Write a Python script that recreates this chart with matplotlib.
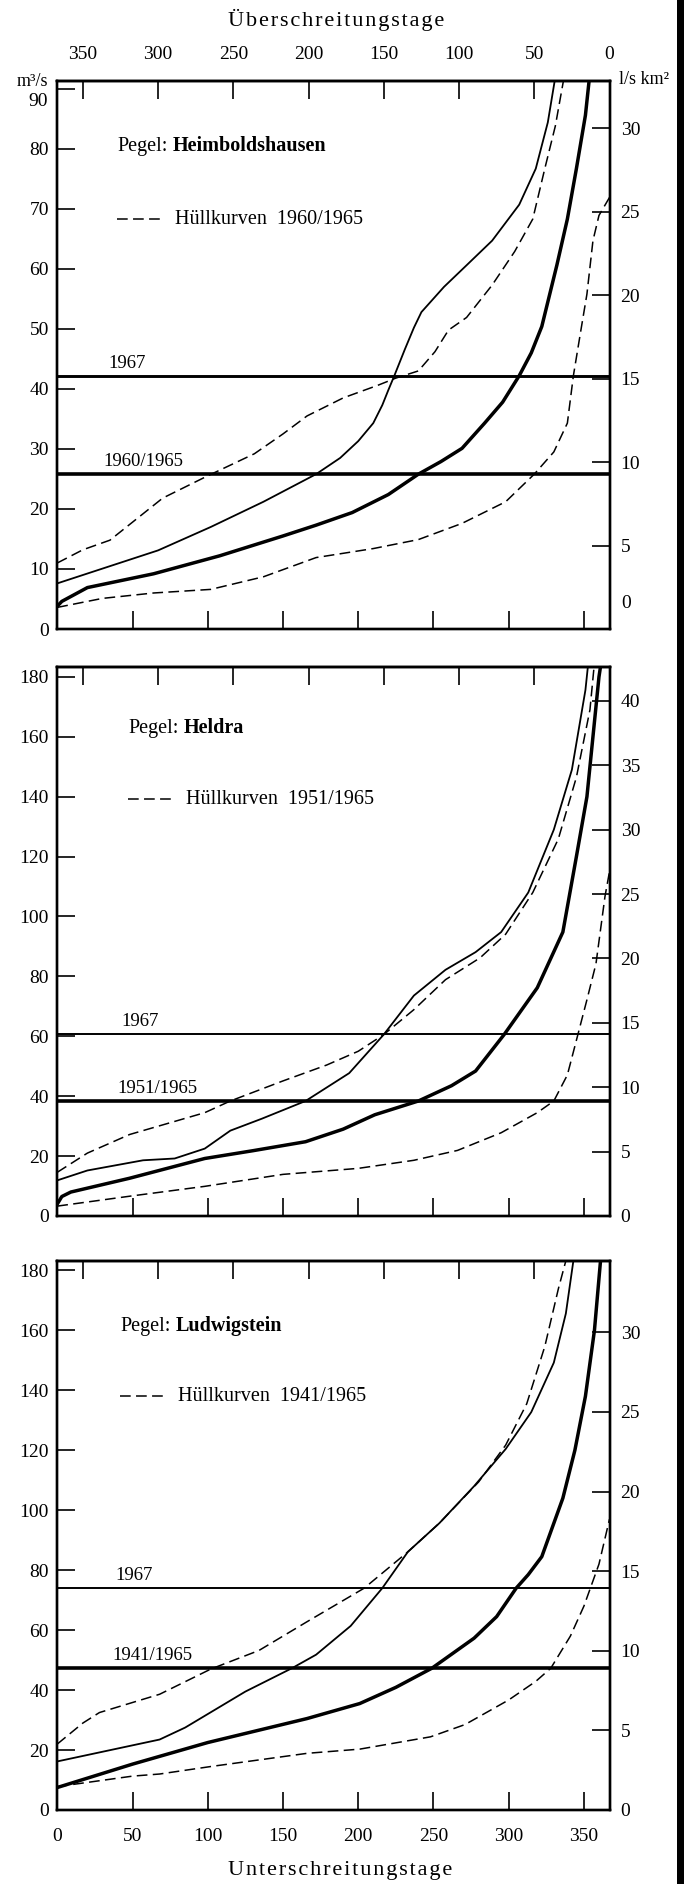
import matplotlib.pyplot as plt
from matplotlib.patches import Rectangle

plt.rcParams['font.family'] = ['Liberation Serif', 'DejaVu Serif']

days_max = 367  # right end of the day axis

# --- Heimboldshausen (m3/s), catchment ~2780 km2
hb_area = 2780
hb_thick_d = [0, 3, 20, 64, 108, 150, 172, 196, 220, 240, 255, 269, 284, 296, 307, 315, 322, 332, 339, 345, 351, 355]
hb_thick_q = [3.8, 4.6, 6.9, 9.2, 12.2, 15.5, 17.3, 19.4, 22.4, 25.8, 27.9, 30.1, 34.3, 37.8, 42.2, 46.0, 50.4, 60.6, 68.3, 76.7, 85.6, 95]
hb_thin_d = [0, 67, 102, 137, 172, 188, 200, 210, 216, 220, 224, 231, 237, 242, 257, 272, 289, 307, 318, 326, 333]
hb_thin_q = [7.6, 13.1, 17.0, 21.2, 25.8, 28.5, 31.3, 34.3, 37.3, 39.8, 42.2, 46.6, 50.2, 52.8, 57.0, 60.6, 64.7, 70.7, 76.7, 84.4, 95]
hb_up_d = [0, 17, 35, 50, 70, 99, 131, 150, 166, 190, 213, 225, 240, 251, 260, 272, 289, 304, 316, 324, 331, 339]
hb_up_q = [11.0, 13.2, 14.8, 17.8, 21.8, 25.4, 29.2, 32.5, 35.5, 38.5, 40.6, 41.8, 43.0, 46.2, 49.8, 51.9, 57.3, 62.9, 68.3, 76.7, 83.8, 95]
hb_lo_d = [0, 30, 64, 102, 137, 172, 210, 240, 269, 298, 317, 330, 339, 343, 348, 352, 356, 360, 367]
hb_lo_q = [3.6, 5.1, 6.0, 6.6, 8.7, 11.9, 13.4, 14.9, 17.6, 21.2, 25.8, 29.5, 34.3, 42.2, 49.8, 55.8, 64.7, 68.9, 71.9]
hb_mean_1967 = 42.2
hb_mean_period = 25.8

# --- Heldra (m3/s), catchment ~4300 km2
hd_area = 4300
hd_thick_d = [0, 3, 9, 48, 98, 130, 165, 190, 211, 240, 262, 278, 297, 319, 336, 345, 352, 357, 360, 363]
hd_thick_q = [4.0, 6.5, 8.0, 12.6, 19.2, 21.8, 24.8, 29.0, 33.8, 38.4, 43.5, 48.4, 60.6, 76.2, 94.8, 120, 140, 165, 180, 190]
hd_thin_d = [0, 20, 57, 78, 98, 115, 136, 165, 194, 217, 237, 258, 278, 295, 313, 330, 342, 351, 354]
hd_thin_q = [11.9, 15.2, 18.6, 19.2, 22.5, 28.5, 32.5, 38.4, 47.7, 60.6, 73.6, 82.2, 88.1, 94.8, 108, 129, 149, 175.6, 190]
hd_up_d = [0, 20, 48, 98, 115, 150, 179, 200, 217, 237, 258, 281, 298, 316, 333, 345, 354, 358]
hd_up_q = [14.6, 21.0, 27.2, 34.5, 38.4, 45.1, 50.4, 55.0, 60.6, 68.9, 78.9, 86.2, 94.1, 108, 125.9, 146.5, 169, 190]
hd_lo_d = [0, 48, 98, 150, 200, 237, 266, 295, 319, 330, 339, 346, 352, 358, 364, 367]
hd_lo_q = [3.3, 6.6, 9.9, 13.9, 15.9, 18.6, 21.9, 27.8, 34.5, 38.4, 47.1, 60.6, 72.2, 84.2, 106.7, 115]
hd_mean_1967 = 60.6
hd_mean_period = 38.4

# --- Ludwigstein (m3/s), catchment ~5310 km2
lw_area = 5310
lw_thick_d = [0, 50, 100, 166, 201, 225, 249, 277, 292, 305, 313, 322, 336, 344, 351, 357, 361, 362]
lw_thick_q = [7.5, 15.3, 22.5, 30.5, 35.5, 40.9, 47.3, 57.3, 64.5, 74.0, 78.5, 84.5, 104, 120, 138, 160, 183, 190]
lw_thin_d = [0, 68, 85, 102, 125, 156, 172, 195, 216, 233, 254, 277, 298, 315, 330, 338, 343, 345]
lw_thin_q = [16.2, 23.5, 27.5, 32.6, 39.5, 47.3, 51.8, 61.4, 74.0, 86.1, 95.7, 108, 120.4, 132.7, 149.2, 165.6, 183.2, 190]
lw_up_d = [0, 17, 28, 68, 102, 134, 166, 204, 233, 254, 280, 298, 312, 324, 333, 338, 340]
lw_up_q = [22.0, 29.0, 32.5, 38.6, 47.0, 53.2, 62.8, 74.0, 86.1, 95.7, 109.4, 121.7, 135.5, 154.6, 173.8, 183.2, 190]
lw_lo_d = [0, 50, 68, 102, 166, 201, 248, 271, 300, 318, 328, 341, 350, 355, 360, 367]
lw_lo_q = [7.8, 11.3, 12.0, 14.5, 18.9, 20.3, 24.4, 28.5, 36.7, 42.9, 47.3, 58.0, 68.0, 75.0, 82.0, 97.0]
lw_mean_1967 = 74.0
lw_mean_period = 47.3

panels = [
    dict(name='Heimboldshausen', period='1960/1965', area=hb_area,
         thick=(hb_thick_d, hb_thick_q), thin=(hb_thin_d, hb_thin_q),
         up=(hb_up_d, hb_up_q), lo=(hb_lo_d, hb_lo_q),
         m67=hb_mean_1967, mp=hb_mean_period,
         yticks=list(range(0, 91, 10)), rticks=list(range(0, 31, 5)), ytop=91.3,
         rect=[57.3, 81, 609.5, 629], lw67=2.1, tx=0.108, ty=0.863, ly=0.748, mx=0.092, px=0.084),
    dict(name='Heldra', period='1951/1965', area=hd_area,
         thick=(hd_thick_d, hd_thick_q), thin=(hd_thin_d, hd_thin_q),
         up=(hd_up_d, hd_up_q), lo=(hd_lo_d, hd_lo_q),
         m67=hd_mean_1967, mp=hd_mean_period,
         yticks=list(range(0, 181, 20)), rticks=list(range(0, 41, 5)), ytop=183.3,
         rect=[57.3, 667, 609.5, 1216], lw67=1.4, tx=0.128, ty=0.871, ly=0.759, mx=0.116, px=0.109),
    dict(name='Ludwigstein', period='1941/1965', area=lw_area,
         thick=(lw_thick_d, lw_thick_q), thin=(lw_thin_d, lw_thin_q),
         up=(lw_up_d, lw_up_q), lo=(lw_lo_d, lw_lo_q),
         m67=lw_mean_1967, mp=lw_mean_period,
         yticks=list(range(0, 181, 20)), rticks=list(range(0, 31, 5)), ytop=183.1,
         rect=[57.3, 1261, 609.5, 1810], lw67=1.4, tx=0.114, ty=0.863, ly=0.754, mx=0.106, px=0.1),
]

W, H = 688, 1884
fig = plt.figure(figsize=(W / 100, H / 100), dpi=100)
dash = (0, (7, 3.5))
fs = 14

for i, p in enumerate(panels):
    x0, top, x1, bot = p['rect']
    ax = fig.add_axes([x0 / W, 1 - bot / H, (x1 - x0) / W, (bot - top) / H])
    ax.set_xlim(0, days_max)
    ax.set_ylim(0, p['ytop'])

    ax.plot(*p['thick'], color='k', lw=2.5, solid_joinstyle='round')
    ax.plot(*p['thin'], color='k', lw=1.3, solid_joinstyle='round')
    ax.plot(*p['up'], color='k', lw=1.1, ls=dash)
    ax.plot(*p['lo'], color='k', lw=1.1, ls=dash)
    ax.axhline(p['m67'], color='k', lw=p['lw67'])
    ax.axhline(p['mp'], color='k', lw=2.6)

    ax.annotate('1967', xy=(p['mx'], p['m67']), xycoords=('axes fraction', 'data'),
                xytext=(0, 3), textcoords='offset points', fontsize=13.5, va='bottom')
    ax.annotate(p['period'], xy=(p['px'], p['mp']), xycoords=('axes fraction', 'data'),
                xytext=(0, 3), textcoords='offset points', fontsize=13.5, va='bottom')

    # station name and key
    t = ax.text(p['tx'], p['ty'], 'Pegel:', transform=ax.transAxes, fontsize=14.5, va='bottom')
    ax.annotate(p['name'], xy=(1, 0), xycoords=t, xytext=(4, 0), textcoords='offset points',
                fontsize=14.5, fontweight='bold', va='bottom')
    ax.plot([p['tx'], p['tx'] + 0.085], [p['ly'], p['ly']], transform=ax.transAxes,
            color='k', lw=1.1, ls=dash)
    ax.text(p['tx'] + 0.105, p['ly'], 'Hüllkurven  ' + p['period'], transform=ax.transAxes,
            fontsize=14.5, va='center')

    for s in ax.spines.values():
        s.set_linewidth(1.7)

    ax.set_xticks(range(0, 351, 50))
    ax.set_yticks(p['yticks'])
    ax.tick_params(axis='x', direction='in', length=13, width=1.2, pad=13,
                   labelsize=fs, labelbottom=(i == 2))
    ax.tick_params(axis='y', direction='in', length=13, width=1.2, pad=6, labelsize=fs)
    if i == 0:
        # top label sits a little below its tick, under the unit
        ax.set_yticklabels([str(v) if v != 90 else '' for v in p['yticks']])
        ax.annotate('90', xy=(0, 90), xycoords=('axes fraction', 'data'), xytext=(-9, -13),
                    textcoords='offset pixels', fontsize=fs, ha='right', va='center')

    sec = ax.secondary_xaxis('top', functions=(lambda x: days_max - x, lambda x: days_max - x))
    sec.set_xticks(range(0, 351, 50))
    sec.tick_params(direction='in', length=13, width=1.2, pad=13, labelsize=fs,
                    labeltop=(i == 0))
    sec.spines['top'].set_linewidth(1.7)

    ax2 = ax.twinx()
    ax2.set_ylim(0, p['ytop'] * 1000 / p['area'])
    for s in ax2.spines.values():
        s.set_linewidth(1.7)
    if i == 0:
        ax2.set_yticks(p['rticks'][1:])
        ax2.annotate('0', xy=(1, 0), xycoords='axes fraction', xytext=(12, 26),
                     textcoords='offset pixels', fontsize=fs, va='center')
    else:
        ax2.set_yticks(p['rticks'])
    ax2.tick_params(axis='y', direction='in', length=13, width=1.2, pad=8, labelsize=fs)

fig.text(48 / W, 1 - 81 / H, 'm³/s', ha='right', va='center', fontsize=13)
fig.text(619 / W, 1 - 80 / H, 'l/s km²', ha='left', va='center', fontsize=13)

hs = '\u200a'
fig.text(336 / W, 1 - 20 / H, hs.join('Überschreitungstage'), ha='center', va='center', fontsize=16)
fig.text(340 / W, 1 - 1870 / H, hs.join('Unterschreitungstage'), ha='center', va='center', fontsize=16)

fig.patches.append(Rectangle((677 / W, 0), 7 / W, 1, transform=fig.transFigure,
                             facecolor='k', edgecolor='none'))

fig.savefig('out.png', dpi=100, facecolor='white')
